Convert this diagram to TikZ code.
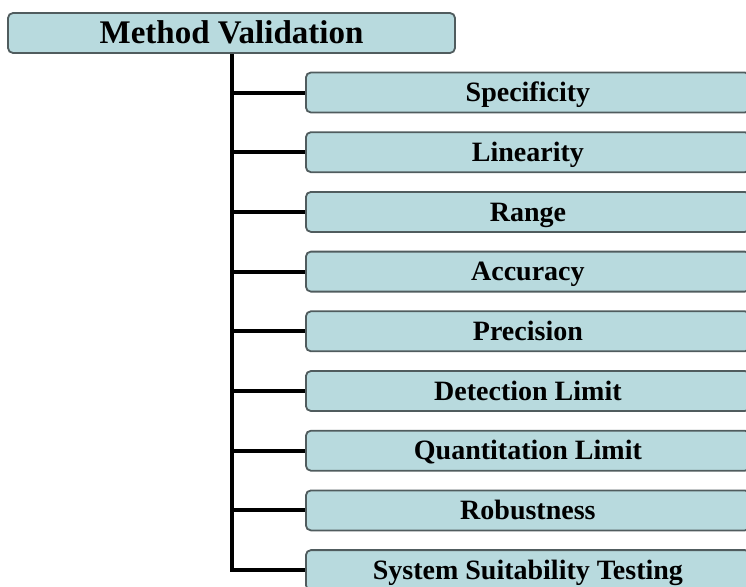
\documentclass[tikz,border=0pt]{standalone}
\usepackage{fontspec}
\setmainfont{Liberation Serif}
\definecolor{boxfill}{RGB}{184,218,222}
\definecolor{boxline}{RGB}{80,92,94}
\tikzset{
  titlebox/.style={draw=boxline, fill=boxfill, line width=1.8pt, rounded corners=5pt,
    minimum width=447pt, minimum height=40pt, inner sep=0pt,
    font=\fontsize{33}{35}\selectfont\bfseries, text height=22pt, text depth=0pt},
  itembox/.style={draw=boxline, fill=boxfill, line width=1.8pt, rounded corners=5pt,
    minimum width=444pt, minimum height=40pt, inner sep=0pt, anchor=west,
    font=\fontsize{28}{30}\selectfont\bfseries, text height=18.5pt, text depth=0pt},
  conn/.style={draw=black, line width=4pt}
}
\begin{document}
\begin{tikzpicture}[x=1pt,y=-1pt]
\useasboundingbox (0,0) rectangle (746,586);
\clip (0,0) rectangle (746,586);
\node[titlebox] (title) at (231.5,33) {Method Validation};
\node[itembox] (c1) at (305,92.5) {Specificity};
\node[itembox] (c2) at (305,152.2) {Linearity};
\node[itembox] (c3) at (305,211.9) {Range};
\node[itembox] (c4) at (305,271.6) {Accuracy};
\node[itembox] (c5) at (305,331.3) {Precision};
\node[itembox] (c6) at (305,391.0) {Detection Limit};
\node[itembox] (c7) at (305,450.7) {Quantitation Limit};
\node[itembox] (c8) at (305,510.4) {Robustness};
\node[itembox] (c9) at (305,570.1) {System Suitability Testing};
\draw[conn] (title.south) -- (title.south |- c9.west) -- (c9.west);
\foreach \i in {1,...,8} {
  \draw[conn] (title.south |- c\i.west) -- (c\i.west);
}
\end{tikzpicture}
\end{document}
